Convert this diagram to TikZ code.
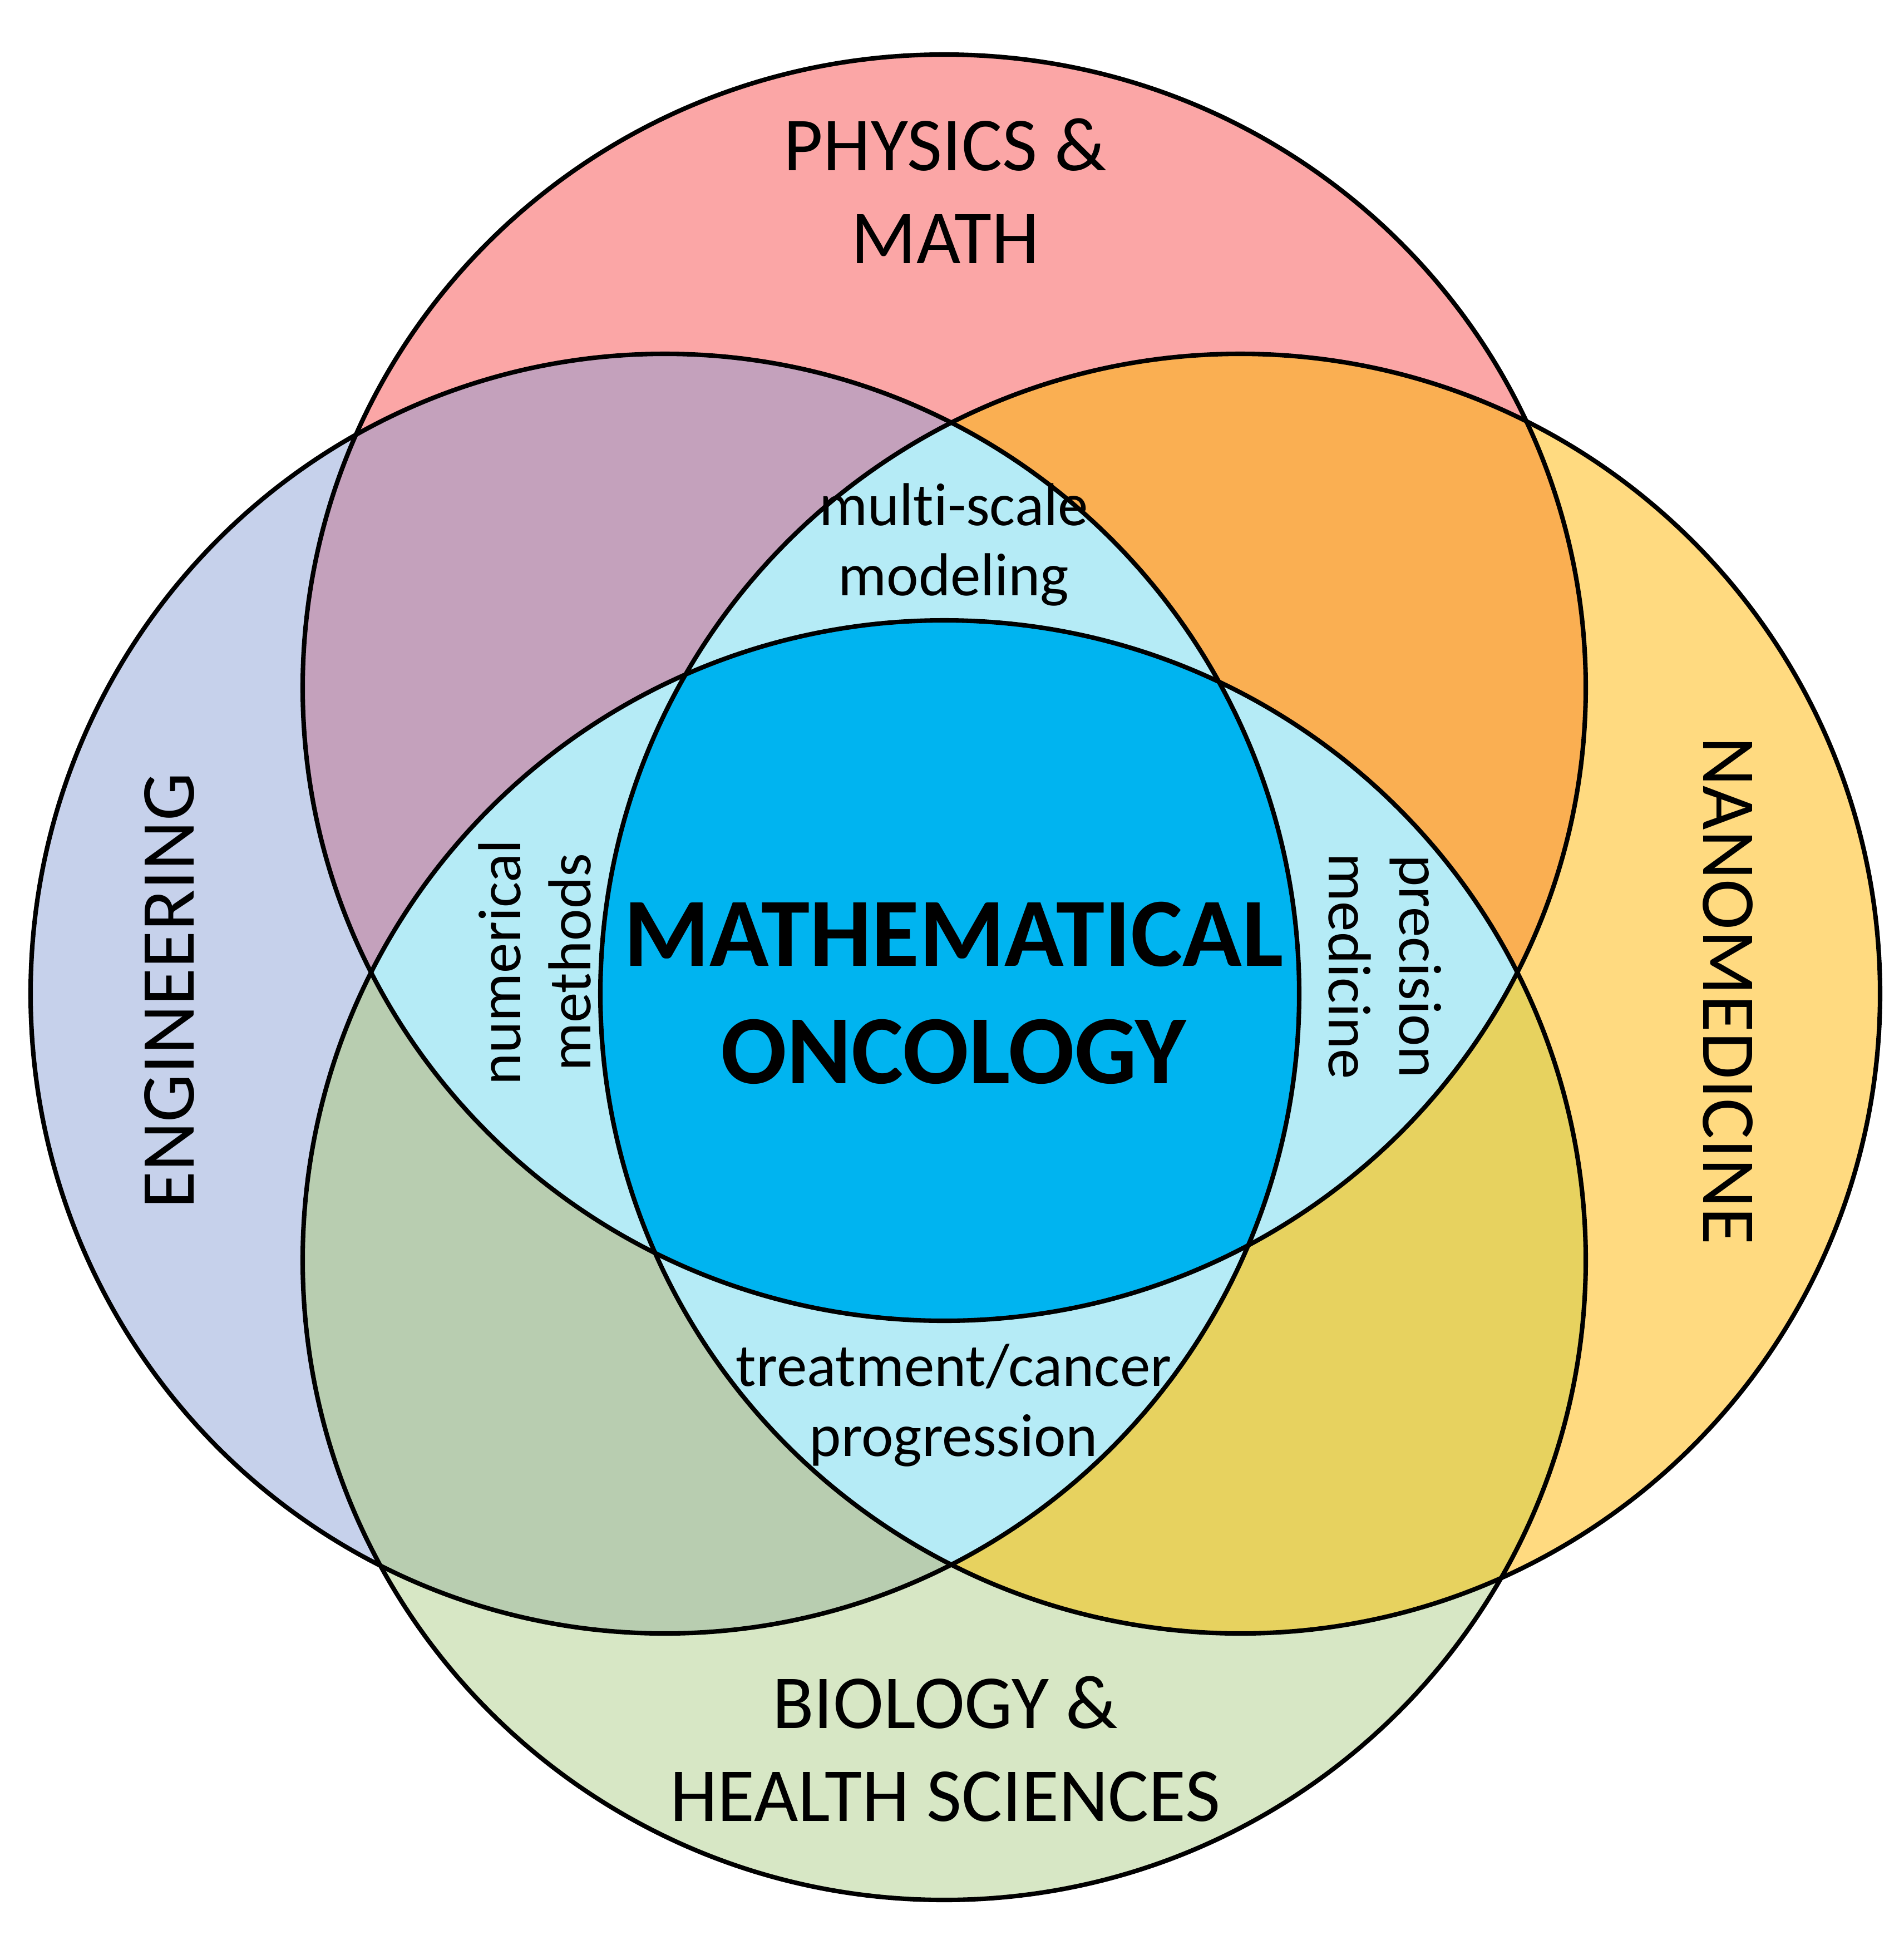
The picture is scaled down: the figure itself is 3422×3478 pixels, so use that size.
\documentclass[tikz,border=0pt]{standalone}
\usepackage{fontspec}
\setmainfont{Carlito}[Ligatures=NoCommon]
\definecolor{cPhys}{HTML}{FBA6A6}
\definecolor{cEng}{HTML}{C6D1EB}
\definecolor{cNano}{HTML}{FFDA80}
\definecolor{cBio}{HTML}{D7E7C5}
\definecolor{cPE}{HTML}{C4A1BC}
\definecolor{cPN}{HTML}{FAAF52}
\definecolor{cBE}{HTML}{B8CDB0}
\definecolor{cBN}{HTML}{E7D25F}
\definecolor{cTri}{HTML}{B5EBF6}
\definecolor{cCore}{HTML}{00B4F0}
\def\topC{(1697,1236) ellipse[x radius=1153,y radius=1138]}
\def\botC{(1697,2265) ellipse[x radius=1153,y radius=1150]}
\def\leftC{(1195,1786) ellipse[x radius=1140,y radius=1150]}
\def\rightC{(2229,1786) circle[radius=1150]}
\begin{document}
\begin{tikzpicture}[x=0.01cm,y=-0.01cm,
  outline/.style={draw=black,line width=2.3pt},
  biglabel/.style={align=center,inner sep=0pt,font=\fontsize{39}{47.5}\selectfont},
  smalllabel/.style={align=center,inner sep=0pt,font=\fontsize{31}{36}\selectfont},
  corelabel/.style={align=center,inner sep=0pt,font=\fontsize{50}{60}\selectfont\bfseries}]
\useasboundingbox[fill=white] (0,0) rectangle (3422,3478);
% single sets
\fill[cPhys] \topC;
\fill[cBio] \botC;
\fill[cEng] \leftC;
\fill[cNano] \rightC;
% pairwise overlaps
\begin{scope}\clip \topC; \fill[cPE] \leftC; \fill[cPN] \rightC; \end{scope}
\begin{scope}\clip \botC; \fill[cBE] \leftC; \fill[cBN] \rightC; \end{scope}
% triple overlaps
\begin{scope}\clip \topC; \fill[cTri] \botC; \end{scope}
\begin{scope}\clip \leftC; \fill[cTri] \rightC; \end{scope}
% core
\begin{scope}\clip \topC; \clip \botC; \clip \leftC; \fill[cCore] \rightC; \end{scope}
% outlines
\draw[outline] \topC;
\draw[outline] \botC;
\draw[outline] \leftC;
\draw[outline] \rightC;
% labels
\node[biglabel] (phys) at (1699,343) {PHYSICS \&\\MATH};
\node[biglabel] (bio) at (1699,3144) {BIOLOGY \&\\HEALTH SCIENCES};
\node[biglabel,rotate=90] (eng) at (304,1781) {ENGINEERING};
\node[biglabel,rotate=-90] (nano) at (3105,1781) {NANOMEDICINE};
\node[smalllabel] (multi) at (1714,979) {multi-scale\\modeling};
\node[smalllabel,rotate=90] (num) at (961,1730) {numerical\\methods};
\node[smalllabel,rotate=-90] (prec) at (2489,1737) {precision\\medicine};
\node[smalllabel] (treat) at (1714,2526) {treatment/cancer\\progression};
\node[corelabel] (core) at (1714,1785) {MATHEMATICAL\\ONCOLOGY};
\end{tikzpicture}
\end{document}
